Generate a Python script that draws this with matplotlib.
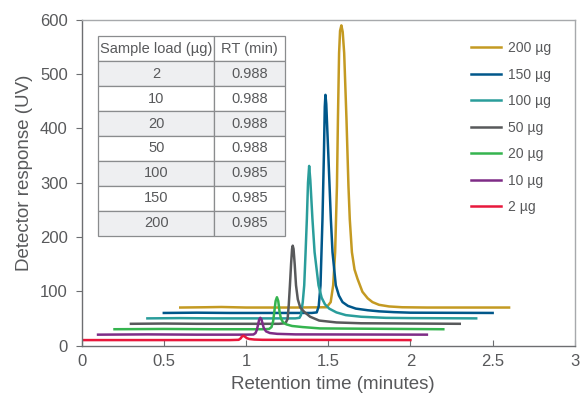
import matplotlib
matplotlib.use("Agg")
import matplotlib.pyplot as plt

plt.rcParams['font.family'] = ['Liberation Sans', 'DejaVu Sans']

labels = ["200 µg", "150 µg", "100 µg", "50 µg", "20 µg", "10 µg", "2 µg"]
colors = ["#C49A22", "#00578A", "#2A9D9B", "#58595B", "#35B44F", "#7E2C86", "#E8183C"]

x200 = [0.6, 0.75, 0.85, 1.0, 1.3, 1.49, 1.515, 1.530, 1.542, 1.553, 1.559, 1.566, 1.572, 1.580,
        1.588, 1.597, 1.611, 1.623, 1.631, 1.644, 1.660, 1.678, 1.708, 1.74, 1.769, 1.809, 1.87,
        1.95, 2.1, 2.6]
y200 = [70, 70.5, 71, 70, 70, 70.5, 80, 111, 172, 294, 417, 539, 580, 590,
        578, 539, 417, 294, 233, 172, 140, 123, 99, 87, 80, 75, 72,
        70.5, 70, 70]

x150 = [0.5, 0.7, 0.9, 1.1, 1.4, 1.43, 1.442, 1.453, 1.465, 1.474, 1.479, 1.483, 1.488, 1.500,
        1.516, 1.526, 1.546, 1.565, 1.587, 1.62, 1.668, 1.74, 1.809, 1.9, 2.0, 2.5]
y150 = [60, 60.5, 60, 60, 60, 61, 72, 111, 233, 356, 440, 462, 445, 356,
        233, 172, 111, 92, 80, 73, 68, 65, 63, 61.5, 60.5, 60]

x100 = [0.4, 0.6, 0.8, 1.0, 1.3, 1.325, 1.334, 1.345, 1.354, 1.362, 1.370, 1.377, 1.384, 1.391,
        1.404, 1.417, 1.441, 1.46, 1.48, 1.506, 1.55, 1.607, 1.7, 1.85, 2.0, 2.4]
y100 = [50, 50.5, 50, 50, 50, 51, 56, 80, 111, 170, 233, 300, 331, 305,
        233, 172, 111, 88, 76, 68, 61, 56, 53, 51, 50.5, 50]

x50 = [0.3, 0.5, 0.7, 1.0, 1.2, 1.24, 1.253, 1.260, 1.267, 1.274, 1.280, 1.284, 1.289, 1.296,
       1.304, 1.315, 1.330, 1.354, 1.39, 1.445, 1.55, 1.7, 2.3]
y50 = [40, 40.5, 40, 40, 40, 41, 49, 75, 111, 150, 178, 184, 178, 150,
       111, 85, 70, 62, 53, 46, 42.5, 41, 40]

x20 = [0.2, 0.5, 0.8, 1.1, 1.14, 1.155, 1.165, 1.172, 1.180, 1.188, 1.196, 1.204, 1.212, 1.225,
       1.245, 1.28, 1.344, 1.45, 2.2]
y20 = [30, 30.5, 30, 30, 30.5, 34, 45, 62, 82, 89, 82, 62, 50, 43,
       39, 36, 34, 31.5, 30]

x10 = [0.1, 0.4, 0.7, 1.0, 1.045, 1.058, 1.066, 1.073, 1.080, 1.087, 1.094, 1.101, 1.108, 1.122,
       1.145, 1.19, 1.3, 2.1]
y10 = [20, 20.5, 20, 20, 20.3, 23, 29, 38, 48, 51, 48, 40, 32, 26,
       23, 21.5, 20.5, 20]

x2 = [0.0, 0.3, 0.6, 0.9, 0.955, 0.967, 0.975, 0.985, 0.995, 1.005, 1.02, 1.05, 1.1, 2.0]
y2 = [10, 10, 10, 10, 10.5, 13, 16.5, 18, 16, 13.5, 12, 11, 10.5, 10]

series_x = [x200, x150, x100, x50, x20, x10, x2]
series_y = [y200, y150, y100, y50, y20, y10, y2]

table_loads = ["2", "10", "20", "50", "100", "150", "200"]
table_rt = ["0.988", "0.988", "0.988", "0.988", "0.985", "0.985", "0.985"]
table_header = ["Sample load (µg)", "RT (min)"]

xticks = [0, 0.5, 1, 1.5, 2, 2.5, 3]
xtick_labels = ["0", "0.5", "1", "1.5", "2", "2.5", "3"]
yticks = [0, 100, 200, 300, 400, 500, 600]

txt = "#58595B"

fig = plt.figure(figsize=(5.83, 3.97), dpi=100)
ax = fig.add_axes([0.140, 0.1297, 0.846, 0.820])

for xs, ys, c, lab in zip(series_x, series_y, colors, labels):
    ax.plot(xs, ys, color=c, lw=1.8, label=lab, solid_joinstyle='round')

ax.set_xlim(0, 3)
ax.set_ylim(0, 600)
ax.set_xticks(xticks)
ax.set_xticklabels(xtick_labels)
ax.set_yticks(yticks)
ax.tick_params(axis='x', direction='in', length=4, width=0.8, colors="#6D6E71",
               labelcolor=txt, labelsize=12, pad=6)
ax.tick_params(axis='y', direction='out', length=4, width=0.8, colors="#6D6E71",
               labelcolor=txt, labelsize=12, pad=6)
for s in ['left', 'bottom']:
    ax.spines[s].set_color("#6D6E71")
    ax.spines[s].set_linewidth(1.0)
for s in ['top', 'right']:
    ax.spines[s].set_color("#A7A9AC")
    ax.spines[s].set_linewidth(1.0)

ax.set_xlabel("Retention time (minutes)", color=txt, fontsize=13.5)
ax.set_ylabel("Detector response (UV)", color=txt, fontsize=13.5)
ax.xaxis.set_label_coords(0.51, -0.093)
ax.yaxis.set_label_coords(-0.098, 0.53)

leg = ax.legend(loc='upper left', bbox_to_anchor=(0.789, 0.935), frameon=False,
                fontsize=10, handlelength=2.2, handletextpad=0.5, labelspacing=0.9,
                borderpad=0, borderaxespad=0)
for t in leg.get_texts():
    t.set_color(txt)

cell_text = [[a, b] for a, b in zip(table_loads, table_rt)]
tbl = ax.table(cellText=cell_text, colLabels=table_header, cellLoc='center',
               colWidths=[0.62, 0.38], bbox=[0.034, 0.337, 0.379, 0.613])
tbl.auto_set_font_size(False)
for (r, c), cell in tbl.get_celld().items():
    cell.set_edgecolor("#8A8C8E")
    cell.set_linewidth(0.9)
    cell.get_text().set_fontsize(10.5)
    cell.get_text().set_color(txt)
    if r == 0:
        cell.set_facecolor("white")
    elif r % 2 == 1:
        cell.set_facecolor("#EEEFF1")
    else:
        cell.set_facecolor("white")

fig.savefig("out.png", dpi=100)
